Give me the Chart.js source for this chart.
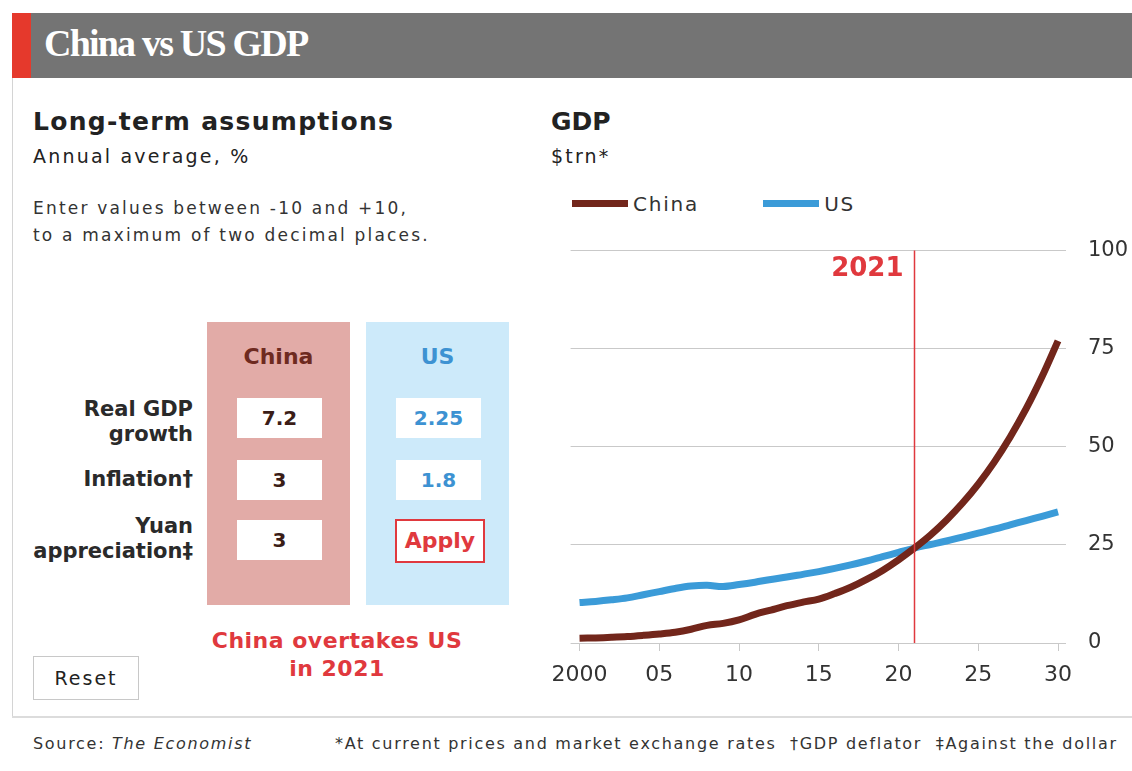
<!DOCTYPE html>
<html>
<head>
<meta charset="utf-8">
<script src="https://cdn.jsdelivr.net/npm/chart.js@4.4.1/dist/chart.umd.min.js"></script>
<style>
  body { margin: 0; width: 1132px; height: 771px; background: #fff; position: relative; overflow: hidden;
         font-family: "DejaVu Sans", Verdana, sans-serif; color: #222; }
  .abs { position: absolute; white-space: nowrap; }
  #headbar { left: 30px; top: 13px; width: 1102px; height: 65px; background: #747474; }
  #headred { left: 12px; top: 13px; width: 19px; height: 65px; background: #e5392c; }
  #title { left: 44px; top: 21px; font: bold 38px "Liberation Serif", "DejaVu Serif", serif; color: #fff; letter-spacing: -1.8px; }
  #leftrule { left: 12px; top: 78px; width: 1px; height: 638px; background: #d4d4d4; }
  #footrule { left: 12px; top: 716px; width: 1120px; height: 2px; background: #dcdcdc; }
  .h2 { font-weight: bold; font-size: 25px; color: #222; }
  .sub { font-size: 19px; color: #222; letter-spacing: 2.2px; }
  .note { font-size: 17px; color: #333; line-height: 27px; letter-spacing: 2.2px; }
  .col { width: 143px; height: 283px; top: 322px; }
  .colhead { font-weight: bold; font-size: 22px; width: 143px; text-align: center; top: 344px; }
  .inp { width: 85px; height: 40px; background: #fff; font-weight: bold; font-size: 20px;
         text-align: center; line-height: 40px; }
  .rowlab { right: 939px; text-align: right; font-weight: bold; font-size: 21px; line-height: 25px; color: #2a2a2a; }
  #overtake { left: 187px; width: 300px; top: 627px; text-align: center; font-weight: bold; font-size: 22px;
              line-height: 28px; color: #e0393e; letter-spacing: 0.5px; }
  #reset { left: 33px; top: 656px; width: 104px; height: 42px; border: 1px solid #c8c8c8; font-size: 19px;
           text-align: center; line-height: 42px; color: #222; letter-spacing: 2px; }
  #legend { left: 572px; top: 192px; font-size: 20px; color: #333; letter-spacing: 1.8px; }
  #legend span.item { display: inline-block; }
  #legend span.sw { display: inline-block; width: 56px; height: 7px; vertical-align: middle; margin-right: 5px; position: relative; top: -2px; }
  .foot { top: 734px; font-size: 16px; color: #333; letter-spacing: 1.7px; }
  #chartbox { left: 540px; top: 216px; width: 592px; height: 482px; }
</style>
</head>
<body>
<div class="abs" id="headbar"></div>
<div class="abs" id="headred"></div>
<div class="abs" id="title">China vs US GDP</div>
<div class="abs" id="leftrule"></div>
<div class="abs" id="footrule"></div>

<div class="abs h2" style="left:33px; top:107px; letter-spacing:1.3px;">Long-term assumptions</div>
<div class="abs sub" style="left:33px; top:145px;">Annual average, %</div>
<div class="abs note" style="left:33px; top:195px;">Enter values between -10 and +10,<br>to a maximum of two decimal places.</div>

<div class="abs col" style="left:207px; background:#e2aba7;"></div>
<div class="abs col" style="left:366px; background:#cdeafa;"></div>
<div class="abs colhead" style="left:207px; color:#6e2a20;">China</div>
<div class="abs colhead" style="left:366px; color:#3d92d2;">US</div>

<div class="abs rowlab" style="top:397px;">Real GDP<br>growth</div>
<div class="abs rowlab" style="top:467px;">Inflation†</div>
<div class="abs rowlab" style="top:514px;">Yuan<br>appreciation‡</div>

<div id="inputs"></div>
<div class="abs" id="apply" style="left:395px; top:519px; width:86px; height:40px; border:2px solid #e0393e; background:#fff;
     color:#e0393e; font-weight:bold; font-size:22px; text-align:center; line-height:40px;">Apply</div>

<div class="abs" id="overtake">China overtakes US<br>in 2021</div>
<div class="abs" id="reset">Reset</div>

<div class="abs h2" style="left:551px; top:107px;">GDP</div>
<div class="abs sub" style="left:551px; top:145px;">$trn*</div>
<div class="abs" id="legend"></div>

<div class="abs" id="chartbox"><canvas id="chart"></canvas></div>

<div class="abs foot" style="left:33px;">Source: <i>The Economist</i></div>
<div class="abs foot" style="left:335px;">*At current prices and market exchange rates &nbsp;†GDP deflator &nbsp;‡Against the dollar</div>

<script>
// assumption inputs shown in the two columns
const assumptionRows = ['Real GDP growth', 'Inflation', 'Yuan appreciation'];
const chinaInputs = ['7.2', '3', '3'];
const usInputs = ['2.25', '1.8'];
const crossoverYear = 2021;

// GDP, $trn, at current prices
const years = [];
for (let y = 2000; y <= 2030; y++) years.push(y);

const chinaGdp = [
  1.2, 1.3, 1.45, 1.65, 1.95, 2.3, 2.75, 3.5, 4.5, 5.0,
  5.9, 7.3, 8.4, 9.5, 10.4, 11.2, 12.6, 14.2, 16.2, 18.5,
  21.2, 24.2, 27.5, 31.3, 35.6, 40.5, 46.1, 52.5, 59.7, 67.9,
  77.0
];
const usGdp = [
  10.3, 10.6, 11.0, 11.5, 12.3, 13.1, 13.9, 14.5, 14.7, 14.4,
  14.9, 15.5, 16.2, 16.8, 17.5, 18.2, 19.0, 19.9, 20.9, 22.0,
  23.1, 24.2, 25.1, 26.0, 27.0, 28.0, 29.0, 30.1, 31.2, 32.3,
  33.4
];

const yTicks = [0, 25, 50, 75, 100];
const xTicks = [2000, 2005, 2010, 2015, 2020, 2025, 2030];

const chinaColor = '#72261b';
const usColor = '#3b9bd8';
const markerColor = '#e0393e';
const gridColor = '#c9c9c9';

// input boxes
const inputTops = [398, 460, 520];
let html = '';
chinaInputs.forEach((v, i) => {
  html += `<div class="abs inp" style="left:237px; top:${inputTops[i]}px; color:#3b1d17;">${v}</div>`;
});
usInputs.forEach((v, i) => {
  html += `<div class="abs inp" style="left:396px; top:${inputTops[i]}px; color:#3d92d2;">${v}</div>`;
});
document.getElementById('inputs').innerHTML = html;

function toPoints(values) {
  return values.map((v, i) => ({ x: years[i], y: v }));
}

// vertical marker at the crossover year
const crossoverLine = {
  id: 'crossoverLine',
  afterDatasetsDraw(chart) {
    const { ctx, scales } = chart;
    const x = Math.round(scales.x.getPixelForValue(crossoverYear)) + 0.5;
    const top = scales.y.getPixelForValue(100);
    const bottom = scales.y.getPixelForValue(0);
    ctx.save();
    ctx.strokeStyle = markerColor;
    ctx.lineWidth = 1.5;
    ctx.beginPath();
    ctx.moveTo(x, top);
    ctx.lineTo(x, bottom);
    ctx.stroke();
    ctx.fillStyle = markerColor;
    ctx.font = 'bold 26px "DejaVu Sans", sans-serif';
    ctx.textAlign = 'right';
    ctx.textBaseline = 'middle';
    ctx.fillText(String(crossoverYear), x - 11, top + 19);
    ctx.restore();
  }
};

const chart = new Chart(document.getElementById('chart'), {
  type: 'line',
  data: {
    datasets: [
      { label: 'China', data: toPoints(chinaGdp), borderColor: chinaColor, backgroundColor: chinaColor },
      { label: 'US', data: toPoints(usGdp), borderColor: usColor, backgroundColor: usColor }
    ]
  },
  options: {
    responsive: true,
    maintainAspectRatio: false,
    animation: false,
    layout: { padding: { left: 30, top: 20, right: 4, bottom: 5 } },
    elements: {
      line: { borderWidth: 7, tension: 0.35, borderCapStyle: 'butt' },
      point: { radius: 0 }
    },
    plugins: {
      legend: { display: false },
      tooltip: { enabled: false }
    },
    scales: {
      x: {
        type: 'linear',
        min: 1999.44,
        max: 2030.5,
        afterBuildTicks: (scale) => { scale.ticks = xTicks.map(v => ({ value: v })); },
        afterFit: (scale) => { scale.height = 50; },
        border: { display: false },
        grid: { drawOnChartArea: false, drawTicks: true, tickLength: 8, color: gridColor },
        ticks: {
          padding: 11,
          maxRotation: 0,
          color: '#333',
          font: { family: '"DejaVu Sans", sans-serif', size: 22 },
          callback: (v) => v === 2000 ? '2000' : String(v - 2000).padStart(2, '0')
        }
      },
      y: {
        position: 'right',
        min: 0,
        max: 100,
        afterBuildTicks: (scale) => { scale.ticks = yTicks.map(v => ({ value: v })); },
        afterFit: (scale) => { scale.width = 62; },
        border: { display: false },
        grid: { drawTicks: false, color: gridColor, lineWidth: 1 },
        ticks: {
          padding: 22,
          color: '#333',
          font: { family: '"DejaVu Sans", sans-serif', size: 21 }
        }
      }
    }
  },
  plugins: [crossoverLine]
});

// legend from the chart's own datasets
const legendGaps = ['margin-right:64px', ''];
document.getElementById('legend').innerHTML = chart.data.datasets.map((ds, i) =>
  `<span class="item" style="${legendGaps[i]}"><span class="sw" style="background:${ds.borderColor}"></span>${ds.label}</span>`
).join('');
</script>
</body>
</html>
